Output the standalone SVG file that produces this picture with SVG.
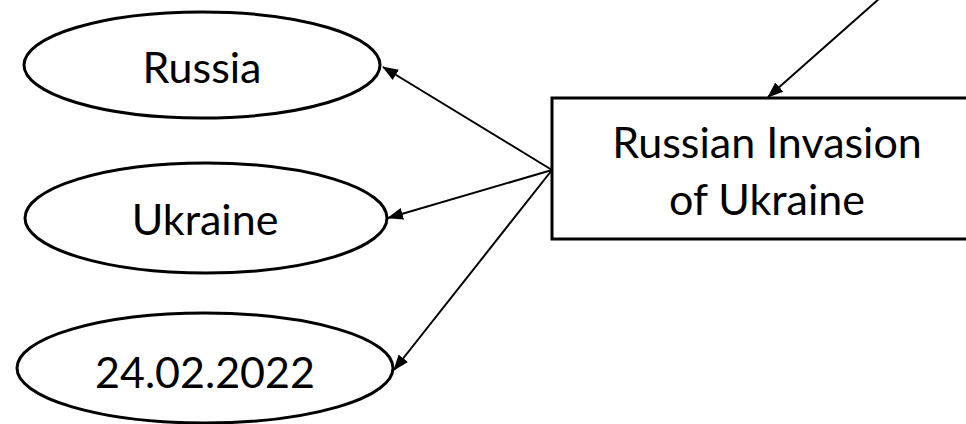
<svg xmlns="http://www.w3.org/2000/svg" width="966" height="424" viewBox="0 0 966 424">
  <style>
    .shape { fill: #ffffff; stroke: #000000; stroke-width: 3; }
    .label { font-family: Lato, "Open Sans", "Liberation Sans", sans-serif; font-size: 43px; fill: #000000; text-anchor: middle; }
    .edge { stroke: #000000; stroke-width: 2; fill: none; marker-end: url(#arrow); }
  </style>
  <defs>
    <marker id="arrow" viewBox="0 0 16 12" refX="15" refY="6" markerWidth="16" markerHeight="12" markerUnits="userSpaceOnUse" orient="auto">
      <path d="M0,0 L16,6 L0,12 z" fill="#000000"/>
    </marker>
  </defs>
  <rect width="966" height="424" fill="#ffffff"/>

  <g id="russia">
    <ellipse class="shape" cx="202" cy="65" rx="178" ry="53"/>
    <text class="label" x="202" y="83">Russia</text>
  </g>
  <g id="ukraine">
    <ellipse class="shape" cx="206" cy="218" rx="181" ry="55"/>
    <text class="label" x="205" y="235">Ukraine</text>
  </g>
  <g id="date">
    <ellipse class="shape" cx="205" cy="368" rx="188" ry="55"/>
    <text class="label" x="205" y="388">24.02.2022</text>
  </g>
  <g id="invasion">
    <rect class="shape" x="552" y="98" width="430" height="141"/>
    <text class="label" x="767" y="158">Russian Invasion</text>
    <text class="label" x="767" y="215">of Ukraine</text>
  </g>

  <g id="connectors">
    <line class="edge" x1="880" y1="-2" x2="768" y2="97"/>
    <line class="edge" x1="552" y1="170" x2="383" y2="67"/>
    <line class="edge" x1="552" y1="170" x2="388" y2="218"/>
    <line class="edge" x1="552" y1="170" x2="394" y2="370"/>
  </g>
</svg>
